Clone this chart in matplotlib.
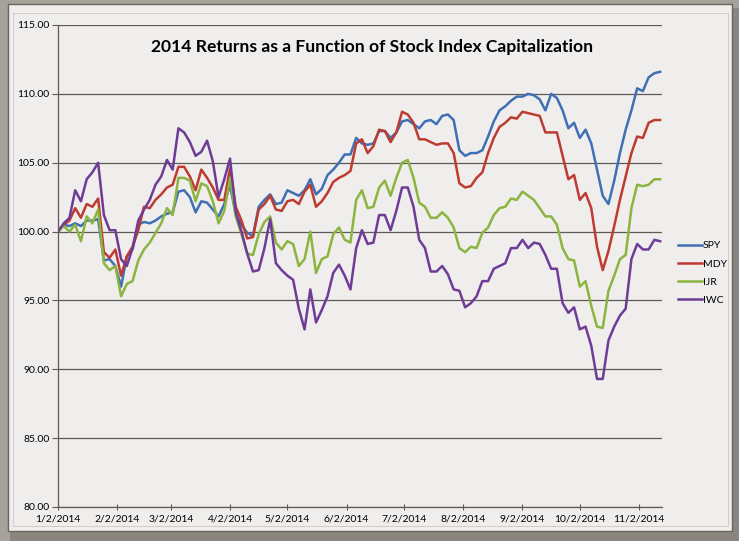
import matplotlib
matplotlib.use("Agg")
import matplotlib.pyplot as plt
import matplotlib.dates as mdates
from matplotlib.patches import Rectangle
from matplotlib.ticker import FuncFormatter, MultipleLocator
import pandas as pd

# values, one sample every 3 calendar days from 1/2/2014
start_date = "2014-01-02"
step = "3D"

spy = [100.0, 100.5, 100.4, 100.6, 100.4, 100.8, 100.8, 100.9, 97.9, 98.0,
       97.5, 96.0, 98.2, 98.7, 100.5, 100.7, 100.6, 100.8, 101.1, 101.3,
       101.4, 102.9, 103.0, 102.5, 101.4, 102.2, 102.1, 101.6, 101.1, 102.0,
       103.4, 101.2, 100.5, 99.9, 99.7, 101.8, 102.3, 102.7, 102.0, 102.1,
       103.0, 102.8, 102.6, 103.0, 103.8, 102.7, 103.1, 104.1, 104.5, 105.0,
       105.6, 105.6, 106.8, 106.4, 106.3, 106.4, 107.3, 107.3, 106.8, 107.2,
       108.0, 108.1, 107.8, 107.5, 108.0, 108.1, 107.8, 108.4, 108.5, 108.1,
       105.9, 105.5, 105.7, 105.7, 105.9, 106.9, 108.0, 108.8, 109.1, 109.5,
       109.8, 109.8, 110.0, 109.9, 109.6, 108.8, 110.0, 109.7, 108.8, 107.5,
       107.9, 106.8, 107.4, 106.4, 104.5, 102.6, 102.0, 103.7, 105.7, 107.4,
       108.8, 110.4, 110.2, 111.2, 111.5, 111.6]

mdy = [100.0, 100.5, 100.8, 101.7, 101.0, 102.0, 101.8, 102.4, 98.5, 98.1,
       98.7, 96.8, 98.2, 98.9, 100.1, 101.8, 101.7, 102.3, 102.7, 103.2,
       103.4, 104.7, 104.7, 104.0, 103.0, 104.5, 103.9, 103.2, 102.3, 102.3,
       104.6, 101.8, 100.8, 99.5, 99.6, 101.6, 102.0, 102.6, 101.6, 101.5,
       102.2, 102.3, 102.0, 102.9, 103.4, 101.8, 102.2, 102.8, 103.6, 103.9,
       104.1, 104.4, 106.4, 106.7, 105.7, 106.2, 107.4, 107.3, 106.5, 107.2,
       108.7, 108.5, 107.9, 106.7, 106.7, 106.5, 106.3, 106.4, 106.4, 105.7,
       103.5, 103.2, 103.3, 103.9, 104.3, 105.7, 106.8, 107.6, 107.9, 108.3,
       108.2, 108.7, 108.6, 108.5, 108.4, 107.2, 107.2, 107.2, 105.5, 103.8,
       104.1, 102.3, 102.8, 101.7, 98.9, 97.2, 98.6, 100.4, 102.3, 104.0,
       105.7, 106.9, 106.8, 107.9, 108.1, 108.1]

ijr = [100.0, 100.4, 100.0, 100.5, 99.3, 101.1, 100.6, 101.6, 97.7, 97.2,
       97.5, 95.3, 96.2, 96.4, 97.9, 98.7, 99.2, 99.9, 100.6, 101.7,
       101.2, 103.9, 103.9, 103.7, 102.2, 103.5, 103.3, 102.2, 100.6, 101.5,
       103.9, 101.1, 99.8, 98.4, 98.3, 99.8, 100.7, 101.1, 99.2, 98.7,
       99.3, 99.1, 97.5, 98.0, 100.0, 97.0, 98.0, 98.2, 99.8, 100.3,
       99.4, 99.2, 102.3, 103.0, 101.7, 101.8, 103.2, 103.7, 102.6, 103.9,
       105.0, 105.2, 103.9, 102.1, 101.8, 101.0, 101.0, 101.4, 101.0, 100.3,
       98.8, 98.5, 98.9, 98.8, 99.9, 100.3, 101.2, 101.7, 101.8, 102.4,
       102.3, 102.9, 102.6, 102.3, 101.7, 101.1, 101.1, 100.5, 98.8, 98.0,
       97.9, 96.0, 96.4, 94.6, 93.1, 93.0, 95.7, 96.8, 98.0, 98.3,
       101.7, 103.4, 103.3, 103.4, 103.8, 103.8]

iwc = [100.0, 100.6, 101.0, 103.0, 102.2, 103.8, 104.3, 105.0, 101.2, 100.1,
       100.1, 98.0, 97.5, 98.8, 100.8, 101.6, 102.3, 103.4, 104.0, 105.2,
       104.5, 107.5, 107.2, 106.5, 105.5, 105.8, 106.6, 105.1, 102.5, 103.8,
       105.3, 101.4, 100.0, 98.4, 97.1, 97.2, 98.8, 100.9, 97.7, 97.2,
       96.8, 96.5, 94.4, 92.9, 95.8, 93.4, 94.3, 95.3, 97.0, 97.6,
       96.8, 95.8, 98.8, 100.1, 99.1, 99.2, 101.2, 101.2, 100.1, 101.5,
       103.2, 103.2, 101.8, 99.4, 98.8, 97.1, 97.1, 97.5, 96.9, 95.8,
       95.7, 94.5, 94.8, 95.3, 96.4, 96.4, 97.3, 97.5, 97.7, 98.8,
       98.8, 99.4, 98.8, 99.2, 99.1, 98.3, 97.3, 97.3, 94.8, 94.1,
       94.5, 92.9, 93.1, 91.7, 89.3, 89.3, 92.1, 93.1, 93.9, 94.4,
       98.0, 99.1, 98.7, 98.7, 99.4, 99.3]

series_names = ["SPY", "MDY", "IJR", "IWC"]
series_colors = ["#3F6FB5", "#BE3B32", "#8CB440", "#6E3C96"]

dates = pd.date_range(start_date, periods=len(spy), freq=step)

W, H = 739, 541
fig = plt.figure(figsize=(W / 100, H / 100), dpi=100, facecolor="#a7a19b")

# outer frame, a darker shadow on the right/bottom, and the chart panel
fig.add_artist(Rectangle((10 / W, 0), 729 / W, 1 - 8 / H,
                         transform=fig.transFigure, facecolor="#8b8580",
                         edgecolor="none", zorder=-11))
fig.add_artist(Rectangle((8 / W, 1 - 531 / H), 724 / W, 527 / H,
                         transform=fig.transFigure, facecolor="#f0eeec",
                         edgecolor="#6b6560", lw=1.0, zorder=-10))
fig.add_artist(Rectangle((13 / W, 1 - 526 / H), 715 / W, 513 / H,
                         transform=fig.transFigure, facecolor="none",
                         edgecolor="#cbc7c3", lw=0.6, zorder=-9))

ax = fig.add_axes([58 / W, 1 - 507 / H, 604 / W, 482 / H])
ax.set_facecolor("#f0eeec")
ax.set_zorder(1)

for vals, name, col in zip([spy, mdy, ijr, iwc], series_names, series_colors):
    ax.plot(dates, vals, color=col, lw=1.8, label=name, solid_joinstyle="round")

ax.set_ylim(80, 115)
ax.set_xlim(pd.Timestamp("2014-01-02"), pd.Timestamp("2014-11-14"))
ax.yaxis.set_major_locator(MultipleLocator(5))
ax.yaxis.set_major_formatter(FuncFormatter(lambda v, p: f"{v:.2f}"))
ax.xaxis.set_major_locator(mdates.MonthLocator(bymonthday=2))
ax.xaxis.set_major_formatter(
    FuncFormatter(lambda v, p: "{d.month}/{d.day}/{d.year}".format(d=mdates.num2date(v))))

grid_col = "#5f5a55"
ax.grid(axis="y", color=grid_col, lw=0.9)
ax.set_axisbelow(True)
for side in ["top", "right"]:
    ax.spines[side].set_visible(False)
for side in ["left", "bottom"]:
    ax.spines[side].set_color(grid_col)
    ax.spines[side].set_linewidth(0.9)

ax.tick_params(axis="y", direction="out", length=4, color=grid_col,
               labelsize=7.5, pad=2)
ax.tick_params(axis="x", direction="inout", length=5, color=grid_col,
               labelsize=7.5, pad=3)
for lab in ax.get_xticklabels() + ax.get_yticklabels():
    lab.set_fontfamily("Lato")

ax.text(0.52, 0.954, "2014 Returns as a Function of Stock Index Capitalization",
        transform=ax.transAxes, ha="center", va="center", fontsize=12.6,
        fontweight="bold", family="Lato", color="black")

fig.legend(loc="upper left", bbox_to_anchor=(673 / W, 1 - 236 / H),
           frameon=False, prop={"family": "Lato", "size": 7.5},
           handlelength=2.3, handletextpad=0.05, labelspacing=0.85,
           borderpad=0)

fig.savefig("out.png", dpi=100, facecolor=fig.get_facecolor())
